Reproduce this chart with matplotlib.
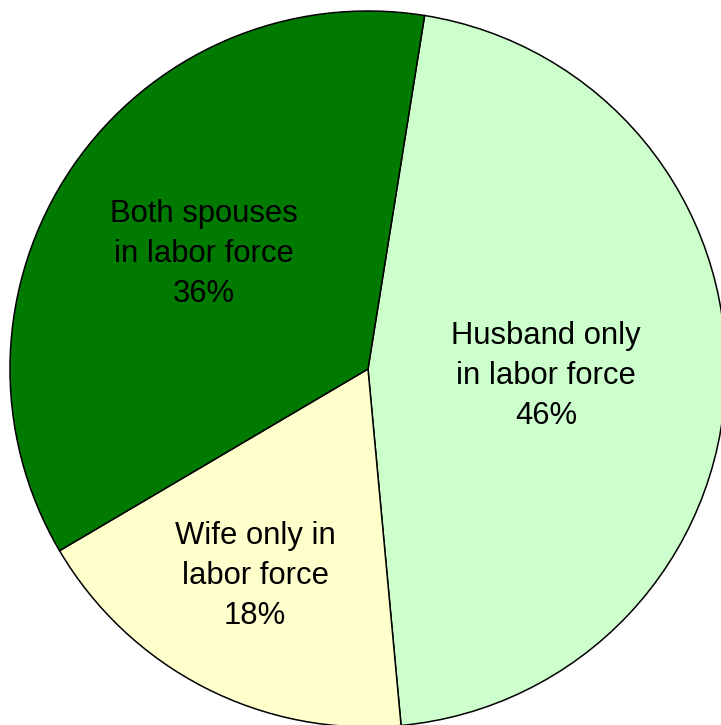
import matplotlib
matplotlib.use("Agg")
import matplotlib.pyplot as plt

# Married-couple families by labor force status of spouses
categories = ["Husband only\nin labor force", "Wife only in\nlabor force", "Both spouses\nin labor force"]
shares = [46, 18, 36]
colors = ["#CCFFCC", "#FFFFCC", "#007A00"]
label_pos = [(546, 349), (255, 149), (204, 471)]

W, H = 721, 725
fig = plt.figure(figsize=(W / 100, H / 100), dpi=100)
ax = fig.add_axes([0, 0, 1, 1])

wedges, _ = ax.pie(
    shares,
    colors=colors,
    startangle=80.9,
    counterclock=False,
    center=(368, H - 369),
    radius=358,
    wedgeprops=dict(edgecolor="black", linewidth=1.1),
    frame=True,
)

for name, val, (x, y) in zip(categories, shares, label_pos):
    ax.text(x, y, f"{name}\n{val}%", ha="center", va="center",
            fontsize=22.3, family="Liberation Sans", linespacing=1.43, color="black")

ax.set_xlim(0, W)
ax.set_ylim(0, H)
ax.set_aspect("equal")
ax.axis("off")
fig.savefig("out.png", dpi=100)
